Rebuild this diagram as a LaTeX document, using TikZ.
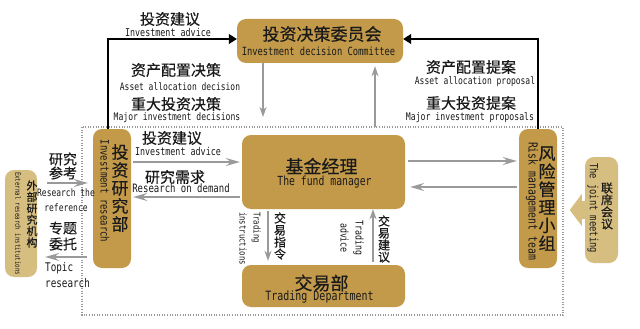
\documentclass[tikz,border=0pt]{standalone}
\usepackage{fontspec}
\setmainfont{DejaVu Sans Mono}
\newfontfamily\cjk[FakeBold=0.4]{Noto Sans CJK SC}
\newfontfamily\en[FakeStretch=0.78]{DejaVu Sans Mono}
\usetikzlibrary{arrows.meta,calc}
\definecolor{gold}{HTML}{C39A4A}
\definecolor{lgold}{HTML}{D6BE80}
\definecolor{garr}{HTML}{9A9A9A}
\definecolor{ink}{HTML}{1A1A1A}
\newcommand\fsz[2]{\fontsize{#1}{#2}\selectfont}
\newcommand\efs[2]{\fontsize{\fpeval{1.28*#1}}{#2}\selectfont}
\begin{document}
\begin{tikzpicture}[x=1pt,y=-1pt,
  box/.style={fill=gold, rounded corners=9pt, inner sep=0pt},
  lbox/.style={fill=lgold, rounded corners=9pt, inner sep=0pt},
  lab/.style={inner sep=0pt, align=center, text=ink},
  garrow/.style={draw=garr, line width=1.6pt, -{Stealth[length=14pt,width=8pt,inset=5pt]}},
  garrowv/.style={draw=garr, line width=1.6pt, -{Stealth[length=10pt,width=7pt,inset=3pt]}},
  barrow/.style={draw=black, line width=1.2pt, -{Triangle[length=8pt,width=10pt]}},
]
\fill[white] (0,0) rectangle (640,329);
\useasboundingbox (0,0) rectangle (640,329);

% dotted frame
\draw[garr, line width=1.2pt, dash pattern=on 1pt off 1.6pt] (82,127) rectangle (563,315);

% boxes
\node[box, minimum width=166pt, minimum height=44pt] (com) at (320,41) {};
\node[box, minimum width=163pt, minimum height=74pt] (fm) at (323.5,172) {};
\node[box, minimum width=163pt, minimum height=42pt] (td) at (323.5,286) {};
\node[box, minimum width=38pt, minimum height=139pt] (ir) at (112,198.5) {};
\node[box, minimum width=38pt, minimum height=139pt] (rm) at (538,198.5) {};
\node[lbox, minimum width=32pt, minimum height=107pt] (ext) at (21,223.5) {};
\node[lbox, minimum width=33pt, minimum height=106pt] (jm) at (601.5,210) {};

% box texts
\node[lab, font=\cjk\fsz{17}{17}] (comA) at (322,34) {投资决策委员会};
\node[lab, font=\en\efs{8.8}{9}] (comB) at (318.5,51) {Investment decision Committee};
\node[lab, font=\cjk\fsz{18}{18}] (fmA) at (321.5,166) {基金经理};
\node[lab, font=\en\efs{9.8}{10}] (fmB) at (324.5,182) {The fund manager};
\node[lab, font=\cjk\fsz{18}{18}] (tdA) at (321.5,283) {交易部};
\node[lab, font=\en\efs{10}{10}] (tdB) at (319.5,297) {Trading Department};

\node[lab, font=\cjk\fsz{17}{18}] (irA) at (120,188) {投\\资\\研\\究\\部};
\node[lab, font=\en\efs{9}{9}, rotate=-90] (irB) at (105,191) {Investment research};
\node[lab, font=\cjk\fsz{17}{18}] (rmA) at (547,198.5) {风\\险\\管\\理\\小\\组};
\node[lab, font=\en\efs{9.8}{10}, rotate=-90] (rmB) at (532,201) {Risk management team};
\node[lab, font=\cjk\fsz{11}{11.4}] (extA) at (32,214) {外\\部\\研\\究\\机\\构};
\node[lab, font=\en\efs{5.7}{6}, rotate=-90] (extB) at (18,223.5) {External research institutions};
\node[lab, font=\cjk\fsz{12}{12}] (jmA) at (607,206) {联\\席\\会\\议};
\node[lab, font=\en\efs{8.8}{9}, rotate=-90] (jmB) at (593,208) {The joint meeting};

% joint meeting block arrow
\fill[lgold] (jm.west) ++(3,-9) -- ++(-6,0) -- ++(0,-7) -- ++(-12,16) -- ++(12,16) -- ++(0,-7) -- ++(6,0) -- cycle;

% black arrows to committee
\draw[barrow] ([xshift=-4pt]ir.north) |- ([yshift=2pt]com.west);
\draw[barrow] (rm.north) |- ([yshift=2pt]com.east);

% committee <-> frame
\coordinate (c1) at (263,117);
\coordinate (c2) at (375,127);
\draw[garrowv] (com.south -| c1) -- (c1);
\draw[garrowv] (c2) -- ([yshift=-3pt]com.south -| c2);

% horizontal helpers
\coordinate (h1) at (0,162);
\coordinate (h2) at (0,197);
\coordinate (h3) at (0,161);
\coordinate (h4) at (0,187);
\coordinate (h5) at (0,183);
\coordinate (h6) at (0,257);
\coordinate (v1) at (268,0);
\coordinate (v2) at (373,0);

\draw[garrow] ([xshift=2pt]ir.east |- h1) -- ([xshift=-2pt]fm.west |- h1);
\draw[garrow] ([xshift=-2pt]fm.west |- h2) -- ([xshift=2pt]ir.east |- h2);
\draw[garrow] ([xshift=3pt]fm.east |- h3) -- ([xshift=-2pt]rm.west |- h3);
\draw[garrow] ([xshift=-2pt]rm.west |- h4) -- ([xshift=5pt]fm.east |- h4);
\draw[garrow] ([xshift=10pt]ext.east |- h5) -- ([xshift=-5pt]ir.west |- h5);
\draw[garrow] ([xshift=-6pt]ir.west |- h6) -- ([xshift=8pt]ext.east |- h6);
\draw[garrowv] ([yshift=-2pt]fm.south -| v1) -- ([yshift=4pt]td.north -| v1);
\draw[garrowv] ([yshift=3pt]td.north -| v2) -- (fm.south -| v2);

% top labels
\node[lab, font=\cjk\fsz{15}{15}] (l1) at (170,19) {投资建议};
\node[lab, font=\en\efs{8.4}{9}] (l2) at (168,32) {Investment advice};
\node[lab, font=\cjk\fsz{15}{15}] (l3) at (176,70) {资产配置决策};
\node[lab, font=\en\efs{8}{9}] (l4) at (180,87) {Asset allocation decision};
\node[lab, font=\cjk\fsz{15}{15}] (l5) at (176,104) {重大投资决策};
\node[lab, font=\en\efs{8.1}{9}] (l6) at (177,118) {Major investment decisions};

\node[lab, font=\cjk\fsz{15}{15}] (r1) at (471,67) {资产配置提案};
\node[lab, font=\en\efs{8}{9}] (r2) at (475,82) {Asset allocation proposal};
\node[lab, font=\cjk\fsz{15}{15}] (r3) at (471,103) {重大投资提案};
\node[lab, font=\en\efs{8.2}{9}] (r4) at (470,118) {Major investment proposals};

% middle labels
\node[lab, font=\cjk\fsz{15}{15}] (m1) at (172,138) {投资建议};
\node[lab, font=\en\efs{8.4}{9}] (m2) at (178,151) {Investment advice};
\node[lab, font=\cjk\fsz{15}{15}] (m3) at (175,177) {研究需求};
\node[lab, font=\en\efs{9}{9}] (m4) at (181,188) {Research on demand};

% left labels
\node[lab, font=\cjk\fsz{14}{14}] (e1) at (63,166) {研究\\参考};
\node[lab, font=\en\efs{8}{15}] (e2) at (66,200) {Research the\\reference};
\node[lab, font=\cjk\fsz{14}{16}] (e3) at (63,236) {专题\\委托};
\node[lab, font=\en\efs{9.3}{16}, align=left, anchor=west] (e4) at (45,275) {Topic\\research};

% trading labels
\node[lab, font=\en\efs{7.3}{14}, align=left, rotate=-90, anchor=west] (t1) at (250,212) {Trading\\instructions};
\node[lab, font=\cjk\fsz{12}{12}] (t2) at (280,236) {交\\易\\指\\令};
\node[lab, font=\en\efs{8.3}{15}, rotate=-90] (t3) at (352,238) {Trading\\advice};
\node[lab, font=\cjk\fsz{12}{12}] (t4) at (384,239) {交\\易\\建\\议};
\end{tikzpicture}
\end{document}
